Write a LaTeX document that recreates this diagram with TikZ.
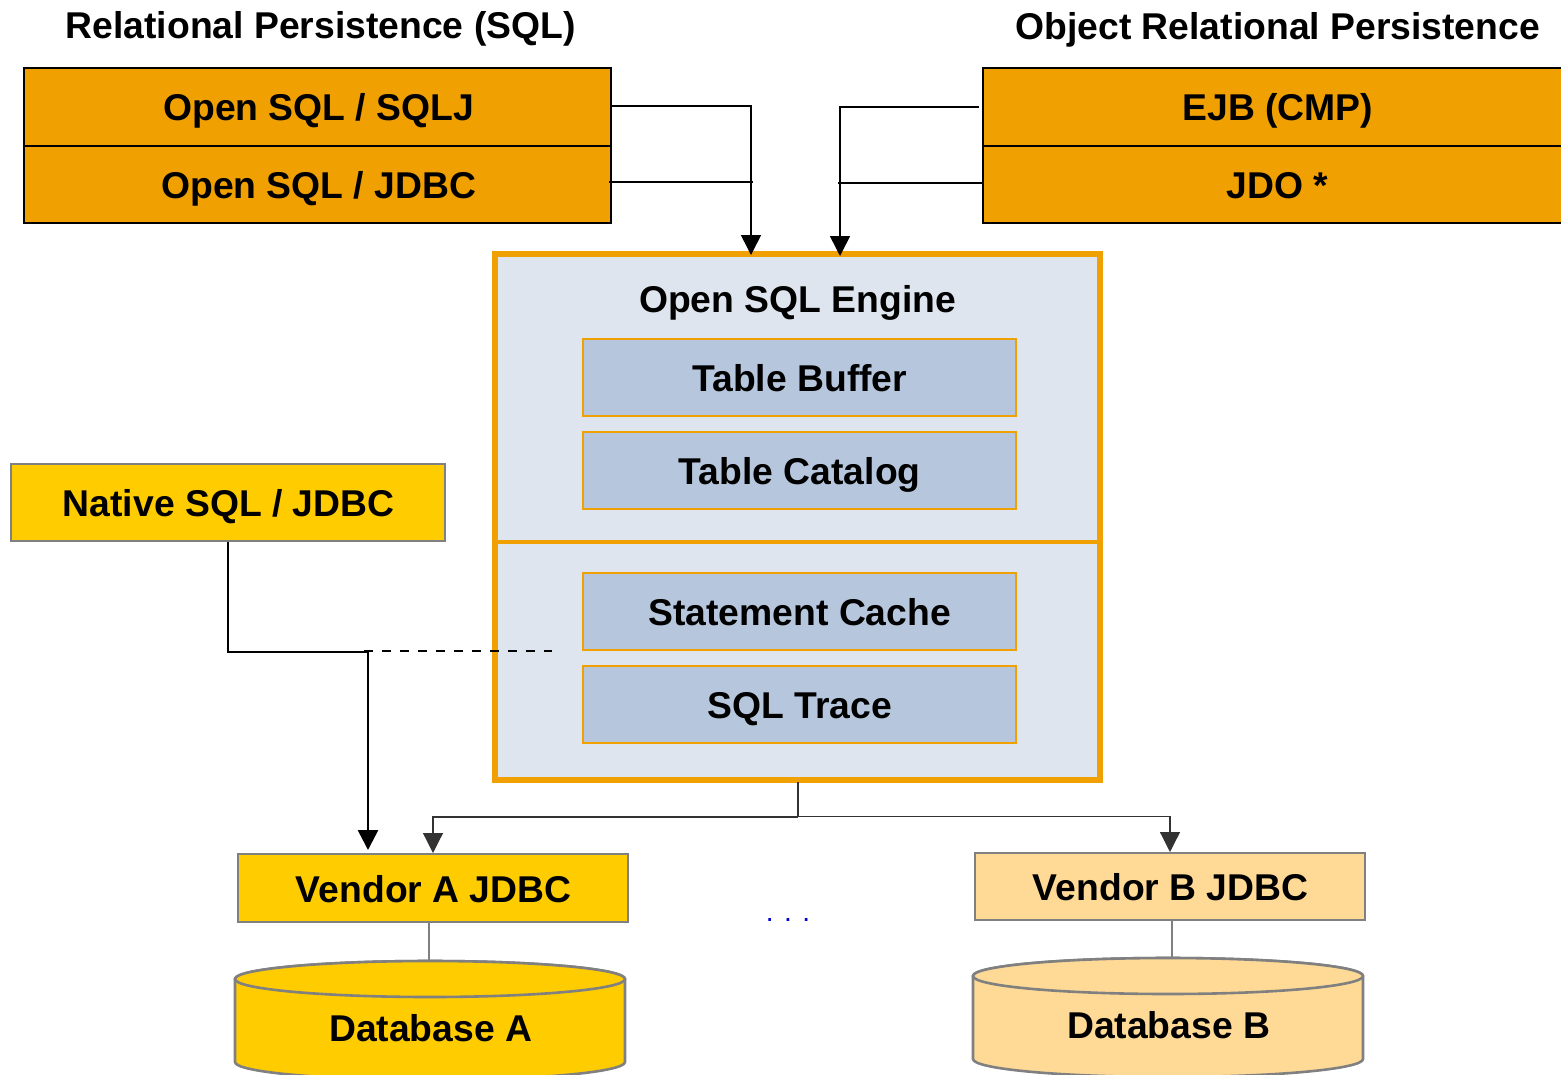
\documentclass[tikz,border=0pt]{standalone}
\usepackage{fontspec}
\setmainfont{Liberation Sans}
\usetikzlibrary{arrows.meta}
\definecolor{orangeb}{HTML}{F0A000}
\definecolor{yelb}{HTML}{FFCC00}
\definecolor{paleb}{HTML}{FFD996}
\definecolor{engine}{HTML}{DEE5EE}
\definecolor{inner}{HTML}{B6C7DD}
\definecolor{greyb}{HTML}{808080}
\begin{document}
\begin{tikzpicture}[x=1pt,y=-1pt,
 lab/.style={font=\bfseries\fontsize{37.3}{40}\selectfont,text=black,anchor=base,inner sep=0pt,xshift=0.7pt},
 obox/.style={draw=black,line width=1.7pt,fill=orangeb},
 ibox/.style={draw=orangeb,line width=1.7pt,fill=inner},
 ybox/.style={draw=greyb,line width=2.6pt,fill=yelb},
 pbox/.style={draw=greyb,line width=2.6pt,fill=paleb},
 conn/.style={draw=black,line width=1.6pt},
 tip/.style={-{Triangle[length=20pt,width=20pt]}},
 thin conn/.style={draw=black!80,line width=1.2pt}]
\useasboundingbox (0,0) rectangle (1561,1074);
\node[lab] (t1) at (320,38) {Relational Persistence (SQL)};
\node[lab] (t2) at (1277,39) {Object Relational Persistence};
% top boxes
\path[obox] (24,68) rectangle (611,146);
\path[obox] (24,146) rectangle (611,223);
\path[obox] (983,68) rectangle (1570,146);
\path[obox] (983,146) rectangle (1570,223);
\node[lab] (a) at (318,120) {Open SQL / SQLJ};
\node[lab] (b) at (318,198) {Open SQL / JDBC};
\node[lab] (c) at (1277,120) {EJB (CMP)};
\node[lab] (d) at (1277,198) {JDO *};
\coordinate (ar) at (611,106);
\coordinate (br) at (609,182);
\coordinate (cl) at (979,107);
\coordinate (dl) at (983,183);
\coordinate (in1) at (751,255);
\coordinate (in2) at (840,256);
% engine
\path[draw=orangeb,line width=6pt,fill=engine] (495,253.5) rectangle (1100,780);
\draw[draw=orangeb,line width=3.5pt] (495,542) -- (1100,542);
\node[lab] (e) at (797,312) {Open SQL Engine};
\path[ibox] (583,339) rectangle (1016,416);
\path[ibox] (583,432) rectangle (1016,509);
\path[ibox] (583,573) rectangle (1016,650);
\path[ibox] (583,666) rectangle (1016,743);
\node[lab] (tb) at (799,391) {Table Buffer};
\node[lab] (tc) at (799,484) {Table Catalog};
\node[lab] (sc) at (799,625) {Statement Cache};
\node[lab] (st) at (799,718) {SQL Trace};
% connectors top
\draw[conn,tip] (ar) -- (751,106) -- (in1);
\draw[conn] (br) -- (753,182);
\draw[conn,tip] (cl) -- (840,107) -- (in2);
\draw[conn] (dl) -- (838,183);
% native
\path[ybox] (11,464) rectangle (445,541);
\node[lab] (n) at (228,516) {Native SQL / JDBC};
\coordinate (nb) at (228,542);
\coordinate (nj) at (368,652);
\coordinate (dash) at (552,651);
\coordinate (va) at (368,850);
\draw[conn,line width=2.6pt] (nb) -- (228,652) -- (nj);
\draw[conn,line width=2.6pt,tip] (nj) -- (va);
\draw[conn,dash pattern=on 9pt off 9pt,line width=2.4pt] (364,651) -- (dash);
% vendors
\path[ybox] (238,854) rectangle (628,922);
\node[lab] (vA) at (433,902) {Vendor A JDBC};
\path[pbox] (975,853) rectangle (1365,920);
\node[lab] (vB) at (1170,900) {Vendor B JDBC};
\coordinate (eb) at (798,782);
\draw[thin conn] (eb) -- (798,817);
\draw[thin conn,tip] (798,817) -- (433,817) -- (433,853);
\draw[thin conn,tip] (798,816.5) -- (1170,816.5) -- (1170,852);
\node[font=\fontsize{28}{32}\selectfont,text=blue!85!black] (dots) at (788,920) {. . .};
% cylinders
\coordinate (dAt) at (429,960);
\coordinate (dBt) at (1172,958);
\draw[thin conn,draw=greyb] (429,922) -- (dAt);
\draw[thin conn,draw=greyb] (1172,921) -- (dBt);
\path[draw=greyb,line width=2.6pt,fill=yelb] (235,979) -- (235,1062) arc[start angle=180,end angle=0,x radius=195,y radius=18] -- (625,979) arc[start angle=0,end angle=-180,x radius=195,y radius=18] -- cycle;
\path[draw=greyb,line width=2.6pt,fill=yelb] (430,979) ellipse[x radius=195,y radius=18];
\path[draw=greyb,line width=2.6pt,fill=paleb] (973,976) -- (973,1059) arc[start angle=180,end angle=0,x radius=195,y radius=18] -- (1363,976) arc[start angle=0,end angle=-180,x radius=195,y radius=18] -- cycle;
\path[draw=greyb,line width=2.6pt,fill=paleb] (1168,976) ellipse[x radius=195,y radius=18];
\node[lab] (dA) at (430,1041) {Database A};
\node[lab] (dB) at (1168,1038) {Database B};
\end{tikzpicture}
\end{document}
